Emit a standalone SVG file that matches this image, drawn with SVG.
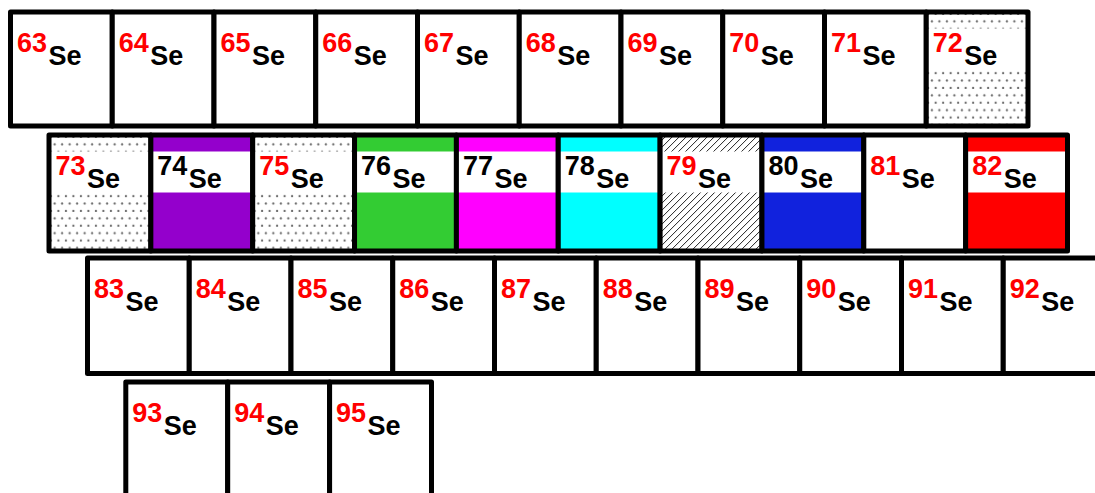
<svg xmlns="http://www.w3.org/2000/svg" width="1095" height="493" viewBox="0 0 1095 493">
<style>
.b{fill:none;stroke:#000;stroke-width:5;stroke-linejoin:round}
.w{fill:#fff}
.band{fill:#fff}
.n{font-family:"Liberation Sans",Arial,sans-serif;font-weight:bold;font-size:27px;fill:#ff0000}
.k{fill:#000}
.s{font-family:"Liberation Sans",Arial,sans-serif;font-weight:bold;font-size:27px;fill:#000}
</style>
<defs>
<pattern id="dots" patternUnits="userSpaceOnUse" width="7.5" height="14.8">
<rect width="7.5" height="14.8" fill="#fff"/>
<circle cx="1.9" cy="1.9" r="1.15" fill="#6e6e6e"/>
<circle cx="5.65" cy="9.3" r="1.15" fill="#6e6e6e"/>
</pattern>
<pattern id="hatch" patternUnits="userSpaceOnUse" width="7" height="7">
<rect width="7" height="7" fill="#fff"/>
<path d="M0,7 L7,0 M-1,1 L1,-1 M6,8 L8,6" stroke="#222" stroke-width="1"/>
</pattern>
</defs>

<!-- Row 1 -->
<g id="se63" transform="translate(10.5,12)"><rect class="w" width="101.75" height="114"/><rect class="b" width="101.75" height="114"/><text class="n" x="6.5" y="40">63</text><text class="s" x="38" y="53">Se</text></g>
<g id="se64" transform="translate(112.25,12)"><rect class="w" width="101.75" height="114"/><rect class="b" width="101.75" height="114"/><text class="n" x="6.5" y="40">64</text><text class="s" x="38" y="53">Se</text></g>
<g id="se65" transform="translate(214,12)"><rect class="w" width="101.75" height="114"/><rect class="b" width="101.75" height="114"/><text class="n" x="6.5" y="40">65</text><text class="s" x="38" y="53">Se</text></g>
<g id="se66" transform="translate(315.75,12)"><rect class="w" width="101.75" height="114"/><rect class="b" width="101.75" height="114"/><text class="n" x="6.5" y="40">66</text><text class="s" x="38" y="53">Se</text></g>
<g id="se67" transform="translate(417.5,12)"><rect class="w" width="101.75" height="114"/><rect class="b" width="101.75" height="114"/><text class="n" x="6.5" y="40">67</text><text class="s" x="38" y="53">Se</text></g>
<g id="se68" transform="translate(519.25,12)"><rect class="w" width="101.75" height="114"/><rect class="b" width="101.75" height="114"/><text class="n" x="6.5" y="40">68</text><text class="s" x="38" y="53">Se</text></g>
<g id="se69" transform="translate(621,12)"><rect class="w" width="101.75" height="114"/><rect class="b" width="101.75" height="114"/><text class="n" x="6.5" y="40">69</text><text class="s" x="38" y="53">Se</text></g>
<g id="se70" transform="translate(722.75,12)"><rect class="w" width="101.75" height="114"/><rect class="b" width="101.75" height="114"/><text class="n" x="6.5" y="40">70</text><text class="s" x="38" y="53">Se</text></g>
<g id="se71" transform="translate(824.5,12)"><rect class="w" width="101.75" height="114"/><rect class="b" width="101.75" height="114"/><text class="n" x="6.5" y="40">71</text><text class="s" x="38" y="53">Se</text></g>
<g id="se72" transform="translate(926.25,12)"><rect fill="url(#dots)" width="101.75" height="114"/><rect class="band" x="0" y="16.5" width="101.75" height="41"/><rect class="b" width="101.75" height="114"/><text class="n" x="6.5" y="40">72</text><text class="s" x="38" y="53">Se</text></g>

<!-- Row 2 -->
<g id="se73" transform="translate(49,135)"><rect fill="url(#dots)" width="101.85" height="116"/><rect class="band" y="16.5" width="101.85" height="41"/><rect class="b" width="101.85" height="116"/><text class="n" x="6.5" y="40">73</text><text class="s" x="38" y="53">Se</text></g>
<g id="se74" transform="translate(150.85,135)"><rect fill="#9400cc" width="101.85" height="116"/><rect class="band" y="16.5" width="101.85" height="41"/><rect class="b" width="101.85" height="116"/><text class="n k" x="6.5" y="40">74</text><text class="s" x="38" y="53">Se</text></g>
<g id="se75" transform="translate(252.7,135)"><rect fill="url(#dots)" width="101.85" height="116"/><rect class="band" y="16.5" width="101.85" height="41"/><rect class="b" width="101.85" height="116"/><text class="n" x="6.5" y="40">75</text><text class="s" x="38" y="53">Se</text></g>
<g id="se76" transform="translate(354.55,135)"><rect fill="#33cc33" width="101.85" height="116"/><rect class="band" y="16.5" width="101.85" height="41"/><rect class="b" width="101.85" height="116"/><text class="n k" x="6.5" y="40">76</text><text class="s" x="38" y="53">Se</text></g>
<g id="se77" transform="translate(456.4,135)"><rect fill="#ff00ff" width="101.85" height="116"/><rect class="band" y="16.5" width="101.85" height="41"/><rect class="b" width="101.85" height="116"/><text class="n k" x="6.5" y="40">77</text><text class="s" x="38" y="53">Se</text></g>
<g id="se78" transform="translate(558.25,135)"><rect fill="#00ffff" width="101.85" height="116"/><rect class="band" y="16.5" width="101.85" height="41"/><rect class="b" width="101.85" height="116"/><text class="n k" x="6.5" y="40">78</text><text class="s" x="38" y="53">Se</text></g>
<g id="se79" transform="translate(660.1,135)"><rect fill="url(#hatch)" width="101.85" height="116"/><rect class="band" y="16.5" width="101.85" height="41"/><rect class="b" width="101.85" height="116"/><text class="n" x="6.5" y="40">79</text><text class="s" x="38" y="53">Se</text></g>
<g id="se80" transform="translate(761.95,135)"><rect fill="#1122dd" width="101.85" height="116"/><rect class="band" y="16.5" width="101.85" height="41"/><rect class="b" width="101.85" height="116"/><text class="n k" x="6.5" y="40">80</text><text class="s" x="38" y="53">Se</text></g>
<g id="se81" transform="translate(863.8,135)"><rect class="w" width="101.85" height="116"/><rect class="b" width="101.85" height="116"/><text class="n" x="6.5" y="40">81</text><text class="s" x="38" y="53">Se</text></g>
<g id="se82" transform="translate(965.65,135)"><rect fill="#ff0000" width="101.85" height="116"/><rect class="band" y="16.5" width="101.85" height="41"/><rect class="b" width="101.85" height="116"/><text class="n" x="6.5" y="40">82</text><text class="s" x="38" y="53">Se</text></g>

<!-- Row 3 -->
<g id="se83" transform="translate(87.5,258)"><rect class="w" width="101.75" height="115.5"/><rect class="b" width="101.75" height="115.5"/><text class="n" x="6.5" y="40">83</text><text class="s" x="38" y="53">Se</text></g>
<g id="se84" transform="translate(189.25,258)"><rect class="w" width="101.75" height="115.5"/><rect class="b" width="101.75" height="115.5"/><text class="n" x="6.5" y="40">84</text><text class="s" x="38" y="53">Se</text></g>
<g id="se85" transform="translate(291,258)"><rect class="w" width="101.75" height="115.5"/><rect class="b" width="101.75" height="115.5"/><text class="n" x="6.5" y="40">85</text><text class="s" x="38" y="53">Se</text></g>
<g id="se86" transform="translate(392.75,258)"><rect class="w" width="101.75" height="115.5"/><rect class="b" width="101.75" height="115.5"/><text class="n" x="6.5" y="40">86</text><text class="s" x="38" y="53">Se</text></g>
<g id="se87" transform="translate(494.5,258)"><rect class="w" width="101.75" height="115.5"/><rect class="b" width="101.75" height="115.5"/><text class="n" x="6.5" y="40">87</text><text class="s" x="38" y="53">Se</text></g>
<g id="se88" transform="translate(596.25,258)"><rect class="w" width="101.75" height="115.5"/><rect class="b" width="101.75" height="115.5"/><text class="n" x="6.5" y="40">88</text><text class="s" x="38" y="53">Se</text></g>
<g id="se89" transform="translate(698,258)"><rect class="w" width="101.75" height="115.5"/><rect class="b" width="101.75" height="115.5"/><text class="n" x="6.5" y="40">89</text><text class="s" x="38" y="53">Se</text></g>
<g id="se90" transform="translate(799.75,258)"><rect class="w" width="101.75" height="115.5"/><rect class="b" width="101.75" height="115.5"/><text class="n" x="6.5" y="40">90</text><text class="s" x="38" y="53">Se</text></g>
<g id="se91" transform="translate(901.5,258)"><rect class="w" width="101.75" height="115.5"/><rect class="b" width="101.75" height="115.5"/><text class="n" x="6.5" y="40">91</text><text class="s" x="38" y="53">Se</text></g>
<g id="se92" transform="translate(1003.25,258)"><rect class="w" width="101.75" height="115.5"/><rect class="b" width="101.75" height="115.5"/><text class="n" x="6.5" y="40">92</text><text class="s" x="38" y="53">Se</text></g>

<!-- Row 4 -->
<g id="se93" transform="translate(125.8,382)"><rect class="w" width="101.9" height="115"/><rect class="b" width="101.9" height="115"/><text class="n" x="6.5" y="40">93</text><text class="s" x="38" y="53">Se</text></g>
<g id="se94" transform="translate(227.7,382)"><rect class="w" width="101.9" height="115"/><rect class="b" width="101.9" height="115"/><text class="n" x="6.5" y="40">94</text><text class="s" x="38" y="53">Se</text></g>
<g id="se95" transform="translate(329.6,382)"><rect class="w" width="101.9" height="115"/><rect class="b" width="101.9" height="115"/><text class="n" x="6.5" y="40">95</text><text class="s" x="38" y="53">Se</text></g>

<g id="connectors"></g>
</svg>
